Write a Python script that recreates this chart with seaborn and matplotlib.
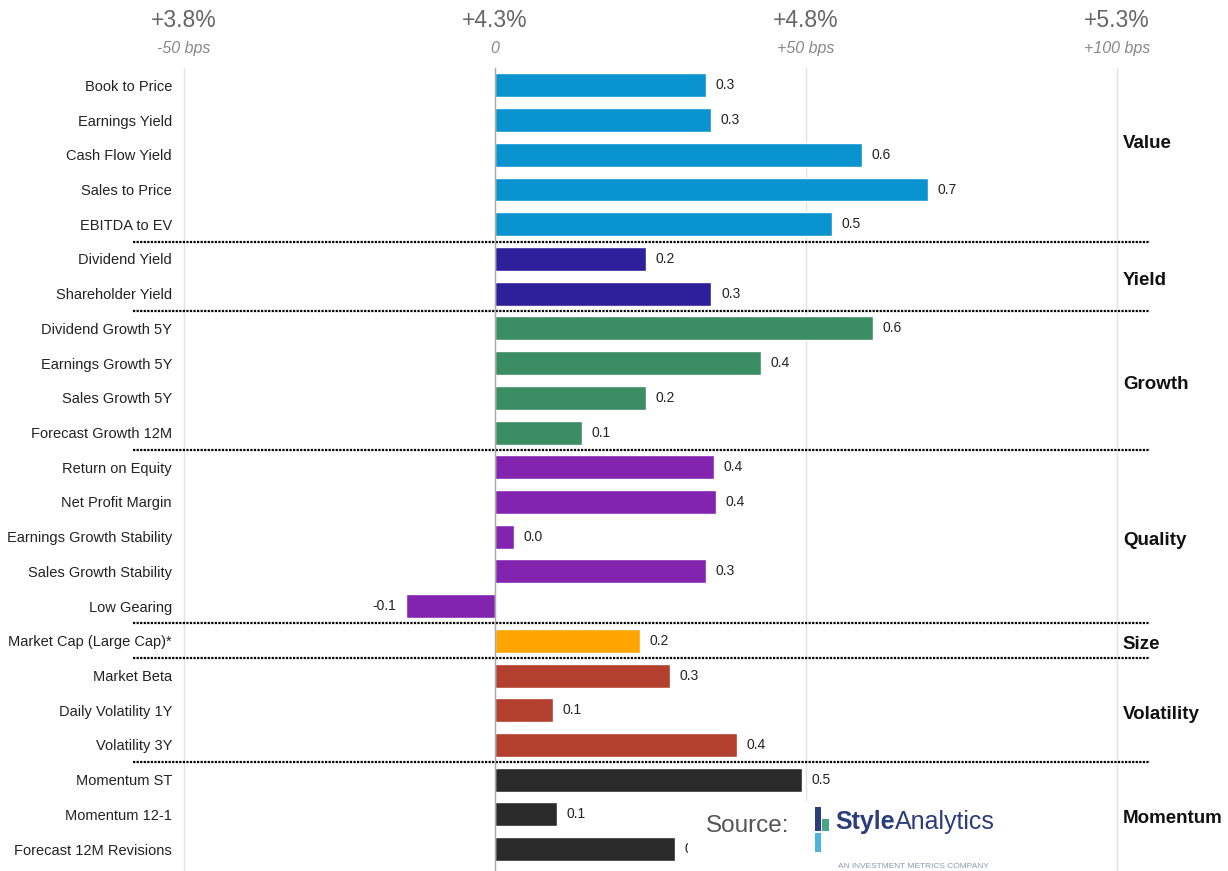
import numpy as np
import pandas as pd
import matplotlib
matplotlib.use("Agg")
import matplotlib.pyplot as plt
from matplotlib.patches import Rectangle
import seaborn as sns

# ---------------- data ----------------
factors = ["Book to Price", "Earnings Yield", "Cash Flow Yield", "Sales to Price", "EBITDA to EV",
           "Dividend Yield", "Shareholder Yield",
           "Dividend Growth 5Y", "Earnings Growth 5Y", "Sales Growth 5Y", "Forecast Growth 12M",
           "Return on Equity", "Net Profit Margin", "Earnings Growth Stability",
           "Sales Growth Stability", "Low Gearing",
           "Market Cap (Large Cap)*",
           "Market Beta", "Daily Volatility 1Y", "Volatility 3Y",
           "Momentum ST", "Momentum 12-1", "Forecast 12M Revisions"]
values = [0.339, 0.347, 0.590, 0.696, 0.542,
          0.243, 0.348,
          0.608, 0.428, 0.243, 0.140,
          0.352, 0.355, 0.031, 0.339, -0.143,
          0.233,
          0.281, 0.093, 0.389,
          0.494, 0.100, 0.289]
groups = ["Value"] * 5 + ["Yield"] * 2 + ["Growth"] * 4 + ["Quality"] * 5 + ["Size"] + \
         ["Volatility"] * 3 + ["Momentum"] * 3
group_names = ["Value", "Yield", "Growth", "Quality", "Size", "Volatility", "Momentum"]
group_colors = ["#0a94cf", "#2e1f9b", "#3b8d63", "#8224b0", "#ffa502", "#b33f2e", "#2a2a2a"]
tick_values = [-0.5, 0.0, 0.5, 1.0]
tick_pct = ["+3.8%", "+4.3%", "+4.8%", "+5.3%"]
tick_bps = ["-50 bps", "0", "+50 bps", "+100 bps"]

df = pd.DataFrame({"factor": factors, "value": values, "group": groups})
n = len(df)

# ---------------- style ----------------
sns.set_style("white")
plt.rcParams["font.family"] = ["Liberation Sans", "DejaVu Sans"]

W, H = 1228, 871
fig = plt.figure(figsize=(W / 100, H / 100), dpi=100)
ax = fig.add_axes([0, 0, 1, (H - 68) / H])

sns.barplot(data=df, x="value", y="factor", hue="group", hue_order=group_names,
            palette=dict(zip(group_names, group_colors)), dodge=False, width=0.69,
            saturation=1, legend=False, ax=ax)

ax.set_xlim(-0.7958, 1.1785)
ax.set_ylim(22.63, -0.49)
ax.set_xlabel("")
ax.set_ylabel("")

for s in ["top", "right", "bottom"]:
    ax.spines[s].set_visible(False)
ax.spines["left"].set_position(("data", 0))
ax.spines["left"].set_color("#aaaaaa")
ax.spines["left"].set_linewidth(1)

# y ticks: labels far left, minor ticks at row boundaries on zero line
ax.set_yticks(np.arange(n + 1) - 0.5, minor=True)
ax.tick_params(axis="y", which="major", length=0, pad=232.6, labelsize=10.5, labelcolor="#222222")
ax.tick_params(axis="y", which="minor", length=4, width=0.8, color="#aaaaaa", direction="out")

# top x axis
ax.xaxis.set_ticks_position("top")
ax.set_xticks(tick_values, tick_pct)
ax.tick_params(axis="x", which="major", length=0, pad=26, labelsize=16.5, labelcolor="#666666")
ax.xaxis.grid(True, color="#e3e3e3", linewidth=1)
ax.yaxis.grid(False)
ax.set_axisbelow(True)

secax = ax.secondary_xaxis("top")
secax.set_xticks(tick_values, tick_bps, fontstyle="italic", fontsize=11.5, color="#888888")
secax.tick_params(length=0, pad=8.3)
for s in secax.spines.values():
    s.set_visible(False)

# value labels
for c in ax.containers:
    ax.bar_label(c, fmt="%.1f", padding=7, fontsize=10, color="#222222")

# group separators and names
for i, g in enumerate(group_names):
    idx = df.index[df["group"] == g]
    yc = idx.to_numpy().mean() + 0.12
    if i == 0:
        yc -= 0.45
    ax.text(1.0096, yc, g, fontweight="bold", fontsize=13.5,
            va="center", ha="left", color="#111111")
    if i < len(group_names) - 1:
        ax.axhline(idx.max() + 0.5, xmin=133 / W, xmax=1150 / W, color="black",
                   linewidth=1.6, linestyle=(0, (1, 0.6)))


# ---------------- source logo ----------------
def fx(px):
    return px / W


def fy(py):
    return 1 - py / H


fig.add_artist(Rectangle((fx(688), fy(871)), fx(1005) - fx(688), fy(801) - fy(871),
                         transform=fig.transFigure, facecolor="white", edgecolor="none", zorder=10))
fig.text(fx(706), fy(826), "Source:", fontsize=17.5, color="#555555", va="center", ha="left", zorder=11)
for (x0, y0, x1, y1, col) in [(815, 807, 821, 831, "#2b3d7a"), (822, 819, 829, 831, "#4aa58a"),
                              (815, 833, 821, 852, "#4fb3e0")]:
    fig.add_artist(Rectangle((fx(x0), fy(y1)), fx(x1) - fx(x0), fy(y0) - fy(y1),
                             transform=fig.transFigure, facecolor=col, edgecolor="none", zorder=11))
t1 = fig.text(fx(835), fy(822), "Style", fontsize=18, fontweight="bold", color="#2b3d7a",
              va="center", ha="left", zorder=11)
fig.canvas.draw()
bb = t1.get_window_extent(renderer=fig.canvas.get_renderer())
fig.text(bb.x1 / W, fy(822), "Analytics", fontsize=18, color="#2b3d7a",
         va="center", ha="left", zorder=11)
fig.text(fx(838), fy(866), "AN INVESTMENT METRICS COMPANY", fontsize=6, color="#8a9bb0",
         va="center", ha="left", zorder=11)

fig.savefig("out.png", dpi=100)
